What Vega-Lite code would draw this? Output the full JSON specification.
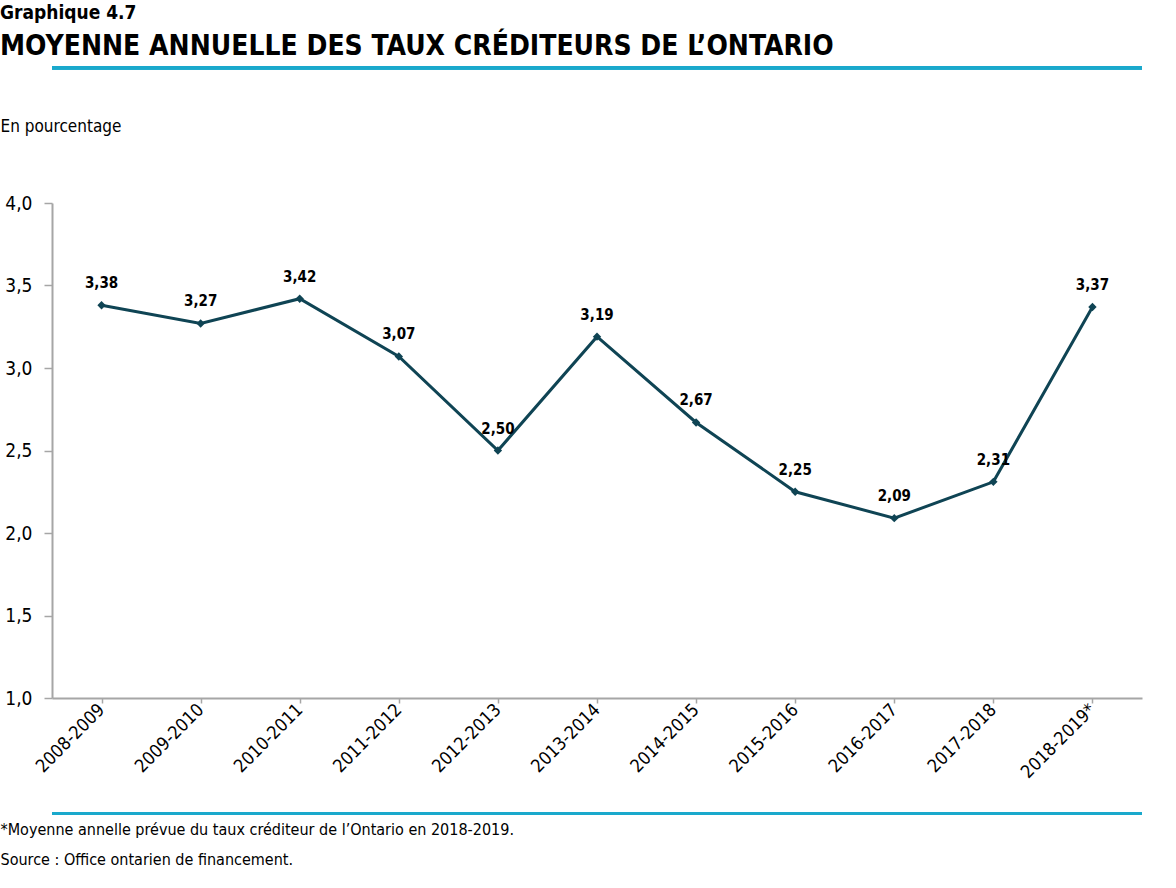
{
  "$schema": "https://vega.github.io/schema/vega-lite/v6.json",
  "width": 1090,
  "height": 495,
  "padding": {"left": 0, "top": 4, "right": 5, "bottom": 5},
  "config": {
    "font": "DejaVu Sans Condensed",
    "view": {"stroke": null},
    "locale": {"number": {"decimal": ",", "thousands": " ", "grouping": [3], "currency": ["", " $"]}}
  },
  "title": {
    "text": "Graphique 4.7",
    "subtitle": "MOYENNE ANNUELLE DES TAUX CRÉDITEURS DE L’ONTARIO",
    "anchor": "start",
    "frame": "bounds",
    "font": "DejaVu Sans Condensed",
    "fontSize": 19,
    "fontWeight": "bold",
    "color": "#000000",
    "subtitleFont": "DejaVu Sans Condensed",
    "subtitleFontSize": 28,
    "subtitleFontWeight": "bold",
    "subtitleColor": "#000000",
    "subtitlePadding": 10,
    "offset": 5
  },
  "data": {
    "values": [
      {"annee": "2008-2009", "taux": 3.38},
      {"annee": "2009-2010", "taux": 3.27},
      {"annee": "2010-2011", "taux": 3.42},
      {"annee": "2011-2012", "taux": 3.07},
      {"annee": "2012-2013", "taux": 2.50},
      {"annee": "2013-2014", "taux": 3.19},
      {"annee": "2014-2015", "taux": 2.67},
      {"annee": "2015-2016", "taux": 2.25},
      {"annee": "2016-2017", "taux": 2.09},
      {"annee": "2017-2018", "taux": 2.31},
      {"annee": "2018-2019*", "taux": 3.37}
    ]
  },
  "encoding": {
    "x": {
      "field": "annee",
      "type": "ordinal",
      "sort": null,
      "scale": {"type": "point", "padding": 0.5},
      "axis": {
        "title": ["*Moyenne annelle prévue du taux créditeur de l’Ontario en 2018-2019.", "Source : Office ontarien de financement."],
        "titleFont": "DejaVu Sans Condensed",
        "titleFontSize": 16,
        "titleFontWeight": "normal",
        "titleColor": "#000000",
        "titleAlign": "left",
        "titleAnchor": "start",
        "titleBaseline": "alphabetic",
        "titleX": -52,
        "titleY": 136,
        "titleLineHeight": 30,
        "labelAngle": -45,
        "labelAlign": "right",
        "labelBaseline": "middle",
        "labelFontSize": 18,
        "labelColor": "#000000",
        "labelPadding": 4,
        "domainColor": "#a6a6a6",
        "domainWidth": 2,
        "tickColor": "#a6a6a6",
        "tickSize": 5,
        "tickWidth": 1.5
      }
    },
    "y": {
      "field": "taux",
      "type": "quantitative",
      "scale": {"domain": [1, 4], "nice": false, "zero": false},
      "axis": {
        "values": [1, 1.5, 2, 2.5, 3, 3.5, 4],
        "format": ".1f",
        "grid": false,
        "title": "En pourcentage",
        "titleFont": "DejaVu Sans Condensed",
        "titleFontSize": 17,
        "titleFontWeight": "normal",
        "titleColor": "#000000",
        "titleAngle": 0,
        "titleAlign": "left",
        "titleBaseline": "alphabetic",
        "titleX": -52,
        "titleY": -72,
        "labelFontSize": 19,
        "labelColor": "#000000",
        "labelPadding": 12,
        "domainColor": "#a6a6a6",
        "domainWidth": 2,
        "tickColor": "#a6a6a6",
        "tickSize": 8,
        "tickWidth": 1.5
      }
    }
  },
  "layer": [
    {
      "mark": {"type": "rule", "color": "#1aa9cc", "strokeWidth": 3, "clip": false},
      "encoding": {"y": {"datum": 4.82}, "x": {}}
    },
    {
      "mark": {"type": "rule", "color": "#1aa9cc", "strokeWidth": 3, "clip": false},
      "encoding": {"y": {"datum": 0.30}, "x": {}}
    },
    {
      "mark": {"type": "line", "color": "#0f4454", "strokeWidth": 3}
    },
    {
      "mark": {"type": "point", "shape": "diamond", "filled": true, "size": 70, "color": "#0f4454", "opacity": 1}
    },
    {
      "mark": {"type": "text", "dy": -22, "fontSize": 15, "fontWeight": "bold", "color": "#000000", "font": "DejaVu Sans Condensed"},
      "encoding": {"text": {"field": "taux", "type": "quantitative", "format": ".2f"}}
    }
  ]
}
